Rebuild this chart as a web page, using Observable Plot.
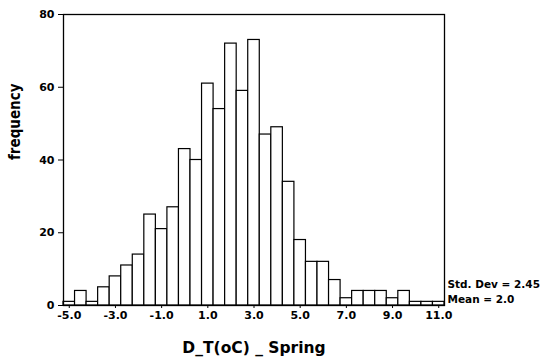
<!DOCTYPE html>
<html>
<head>
<meta charset="utf-8">
<script src="https://cdn.jsdelivr.net/npm/d3@7"></script>
<script src="https://cdn.jsdelivr.net/npm/@observablehq/plot@0.6"></script>
<style>
  html, body { margin: 0; padding: 0; background: #fff; }
</style>
</head>
<body>
<div id="chart"></div>
<script>
// Bin midpoints (width 0.5) and frequencies
const binCenters = [-5.0, -4.5, -4.0, -3.5, -3.0, -2.5, -2.0, -1.5, -1.0, -0.5,
                    0.0, 0.5, 1.0, 1.5, 2.0, 2.5, 3.0, 3.5, 4.0, 4.5,
                    5.0, 5.5, 6.0, 6.5, 7.0, 7.5, 8.0, 8.5, 9.0, 9.5,
                    10.0, 10.5, 11.0];
const counts = [1, 4, 1, 5, 8, 11, 14, 25, 21, 27,
                43, 40, 61, 54, 72, 59, 73, 47, 49, 34,
                18, 12, 12, 7, 2, 4, 4, 4, 2, 4,
                1, 1, 1];
const binWidth = 0.5;
const xTicks = [-5, -3, -1, 1, 3, 5, 7, 9, 11];
const yTicks = [0, 20, 40, 60, 80];
const statsLabels = ["Std. Dev = 2.45", "Mean = 2.0"];
const xTitle = "D_T(oC) _ Spring";
const yTitle = "frequency";

const bins = binCenters.map((c, i) => ({x1: c - binWidth / 2, x2: c + binWidth / 2, count: counts[i]}));

const chart = Plot.plot({
  width: 544,
  height: 361,
  marginLeft: 63,
  marginRight: 100,
  marginTop: 14,
  marginBottom: 56,
  style: {fontFamily: "DejaVu Sans", fontWeight: "bold", fontSize: "11px", color: "#000", background: "#fff"},
  x: {domain: [-5.25, 11.25]},
  y: {domain: [0, 80]},
  marks: [
    Plot.rectY(bins, {x1: "x1", x2: "x2", y: "count", fill: "#fff", stroke: "#000", strokeWidth: 1.2}),
    Plot.frame({stroke: "#000", strokeWidth: 1.3}),
    Plot.axisX({ticks: xTicks, tickFormat: d => d.toFixed(1), tickSize: 3, tickPadding: 3, label: null, fontSize: 11}),
    Plot.axisY({ticks: yTicks, tickSize: 5, tickPadding: 4, label: null, fontSize: 11}),
    Plot.text([xTitle], {frameAnchor: "bottom", dy: 47, fontSize: 15.5, fontFamily: "DejaVu Sans", fontWeight: "bold"}),
    Plot.text([yTitle], {frameAnchor: "left", dx: -48, rotate: -90, fontSize: 15, fontFamily: "Liberation Sans Narrow, DejaVu Sans Condensed, sans-serif", fontWeight: "bold"}),
    Plot.text([statsLabels[0]], {frameAnchor: "bottom-right", dx: 3, dy: -17.5, textAnchor: "start", fontSize: 10.5}),
    Plot.text([statsLabels[1]], {frameAnchor: "bottom-right", dx: 3, dy: -3, textAnchor: "start", fontSize: 10.5})
  ]
});
document.getElementById("chart").append(chart);
</script>
</body>
</html>
